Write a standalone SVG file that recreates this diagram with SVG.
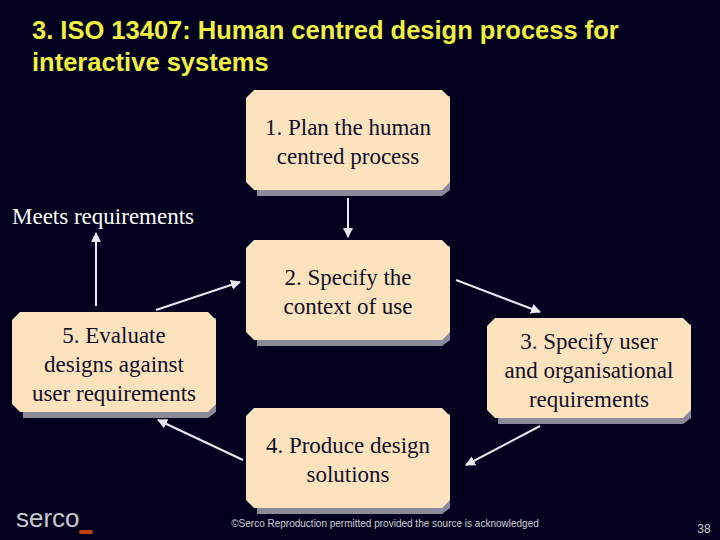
<svg xmlns="http://www.w3.org/2000/svg" width="720" height="540" viewBox="0 0 720 540">
<defs>
<style>
.sh{fill:#8a8a9a}
.bx{fill:#fde3bd}
.t{font-family:"Liberation Serif",serif;font-size:23px;fill:#10102a;text-anchor:middle}
.ln{stroke:#e8e8f0;stroke-width:2;fill:none;marker-end:url(#a)}
.ti{font-family:"Liberation Sans",Arial,sans-serif;font-size:25.5px;font-weight:bold;fill:#f0f040}
</style>
<marker id="a" viewBox="0 0 10 10" refX="9" refY="5" markerWidth="5" markerHeight="5" orient="auto"><path d="M0,0L10,5L0,10z" fill="#e8e8f0"/></marker>
<symbol id="b" viewBox="0 0 204 100" overflow="visible">
<path class="sh" d="M11,6H204V100L196,106H11z"/>
<path class="bx" d="M8,0H196L204,8V92L196,100H8L0,92V8z"/>
</symbol>
</defs>
<rect width="720" height="540" fill="#00001e"/>
<g>
<text class="ti" x="32" y="39">3. ISO 13407:  Human centred design process for</text>
<text class="ti" x="32" y="71">interactive systems</text>
</g>
<g id="connectors">
<line class="ln" x1="348" y1="198" x2="348" y2="237"/>
<line class="ln" x1="156" y1="310" x2="240" y2="282"/>
<line class="ln" x1="456" y1="280" x2="540" y2="312"/>
<line class="ln" x1="540" y1="426" x2="466" y2="465"/>
<line class="ln" x1="243" y1="460" x2="158" y2="420"/>
<line class="ln" x1="96" y1="306" x2="96" y2="233"/>
</g>
<g id="n1"><use href="#b" x="246" y="90" width="204" height="100"/><text class="t" x="348" y="135">1. Plan the human</text><text class="t" x="348" y="164">centred process</text></g>
<g id="n2"><use href="#b" x="246" y="240" width="204" height="100"/><text class="t" x="348" y="285">2. Specify the</text><text class="t" x="348" y="314">context of use</text></g>
<g id="n3"><use href="#b" x="487" y="318" width="204" height="100"/><text class="t" x="589" y="349">3. Specify user</text><text class="t" x="589" y="378">and organisational</text><text class="t" x="589" y="407">requirements</text></g>
<g id="n4"><use href="#b" x="246" y="408" width="204" height="100"/><text class="t" x="348" y="453">4. Produce design</text><text class="t" x="348" y="482">solutions</text></g>
<g id="n5"><use href="#b" x="12" y="312" width="204" height="100"/><text class="t" x="114" y="343">5. Evaluate</text><text class="t" x="114" y="372">designs against</text><text class="t" x="114" y="401">user requirements</text></g>
<g id="meets"><text x="12" y="224" font-family="Liberation Serif,serif" font-size="23" fill="#ffffff">Meets requirements</text></g>
<text x="16" y="527" font-family="Liberation Sans,sans-serif" font-size="26" fill="#c8c8d0">serco</text>
<rect x="79" y="530" width="14" height="4" rx="2" fill="#c04010"/>
<text x="385" y="527" font-family="Liberation Sans,sans-serif" font-size="10" fill="#d0d0d8" text-anchor="middle">©Serco Reproduction permitted provided the source is acknowledged</text>
<text x="704" y="533" font-family="Liberation Sans,sans-serif" font-size="12" fill="#d0d0d8" text-anchor="middle">38</text>
</svg>
